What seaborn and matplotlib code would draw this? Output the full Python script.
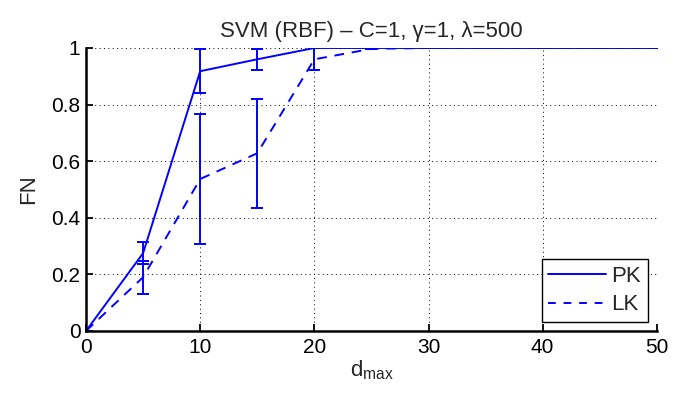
import numpy as np
import pandas as pd
import matplotlib
matplotlib.use("Agg")
import matplotlib.pyplot as plt
import seaborn as sns
from matplotlib.lines import Line2D

# Data
d_max = [0, 5, 10, 15, 20, 25, 30, 35, 40, 45, 50]
pk_mean = [0.0, 0.275, 0.918, 0.96, 1.0, 1.0, 1.0, 1.0, 1.0, 1.0, 1.0]
pk_err = [0.0, 0.038, 0.078, 0.038, 0.0, 0.0, 0.0, 0.0, 0.0, 0.0, 0.0]
lk_mean = [0.0, 0.19, 0.537, 0.628, 0.96, 0.997, 1.0, 1.0, 1.0, 1.0, 1.0]
lk_err = [0.0, 0.058, 0.228, 0.192, 0.039, 0.0, 0.0, 0.0, 0.0, 0.0, 0.0]
series_names = ["PK", "LK"]
x_ticks = [0, 10, 20, 30, 40, 50]
y_ticks = [0, 0.2, 0.4, 0.6, 0.8, 1]
y_tick_labels = ["0", "0.2", "0.4", "0.6", "0.8", "1"]
title = "SVM (RBF) \u2013 C=1, \u03b3=1, \u03bb=500"

sns.set_theme(style="white")
plt.rcParams["font.family"] = ["Liberation Sans", "DejaVu Sans"]
plt.rcParams["mathtext.fontset"] = "custom"
plt.rcParams["mathtext.rm"] = "Liberation Sans"
plt.rcParams["mathtext.it"] = "Liberation Sans"

df = pd.DataFrame({
    "d": d_max * 2,
    "FN": pk_mean + lk_mean,
    "err": pk_err + lk_err,
    "kind": [series_names[0]] * len(d_max) + [series_names[1]] * len(d_max),
})

fig = plt.figure(figsize=(6.73, 3.93), dpi=100)
ax = fig.add_axes([0.1278, 0.1578, 0.976 - 0.1278, 0.8779 - 0.1578])

blue = "#0000ff"
lw = 1.4
sns.lineplot(data=df, x="d", y="FN", style="kind", color=blue, ax=ax,
             dashes={"PK": "", "LK": (5, 4)}, linewidth=lw, legend=False,
             estimator=None, sort=False)

for name in series_names:
    sub = df[df["kind"] == name]
    ax.errorbar(sub["d"], sub["FN"], yerr=sub["err"], fmt="none",
                ecolor=blue, elinewidth=lw, capsize=4.5, capthick=lw)

ax.set_xlim(0, 50)
ax.set_ylim(0, 1)
ax.set_xticks(x_ticks)
ax.set_yticks(y_ticks)
ax.set_yticklabels(y_tick_labels)
ax.tick_params(direction="in", length=5, width=1.3, labelsize=15, colors="black",
               top=False, right=False, bottom=True, left=True)
ax.tick_params(axis="y", pad=4)
ax.tick_params(axis="x", pad=5)
ax.grid(True, linestyle=(0, (1, 3.5)), color="black", linewidth=0.7)
for s in ["top", "right"]:
    ax.spines[s].set_visible(False)
for s in ["left", "bottom"]:
    ax.spines[s].set_color("black")
    ax.spines[s].set_linewidth(1.8)

ax.set_xlabel(r"d$_{\mathrm{max}}$", fontsize=16, labelpad=1)
ax.set_ylabel("FN", fontsize=16, labelpad=9)
ax.set_title(title, fontsize=16, pad=8)

handles = [Line2D([0], [0], color=blue, lw=lw, linestyle="-"),
           Line2D([0], [0], color=blue, lw=lw, linestyle=(0, (4, 4)))]
leg = ax.legend(handles, series_names, loc="lower right", fontsize=16,
                frameon=True, fancybox=False, framealpha=1, edgecolor="black",
                handlelength=2.6, borderpad=0.3, labelspacing=0.35,
                handletextpad=0.25, borderaxespad=0.4)
leg.get_frame().set_linewidth(1.0)

fig.savefig("out.png", dpi=100)
